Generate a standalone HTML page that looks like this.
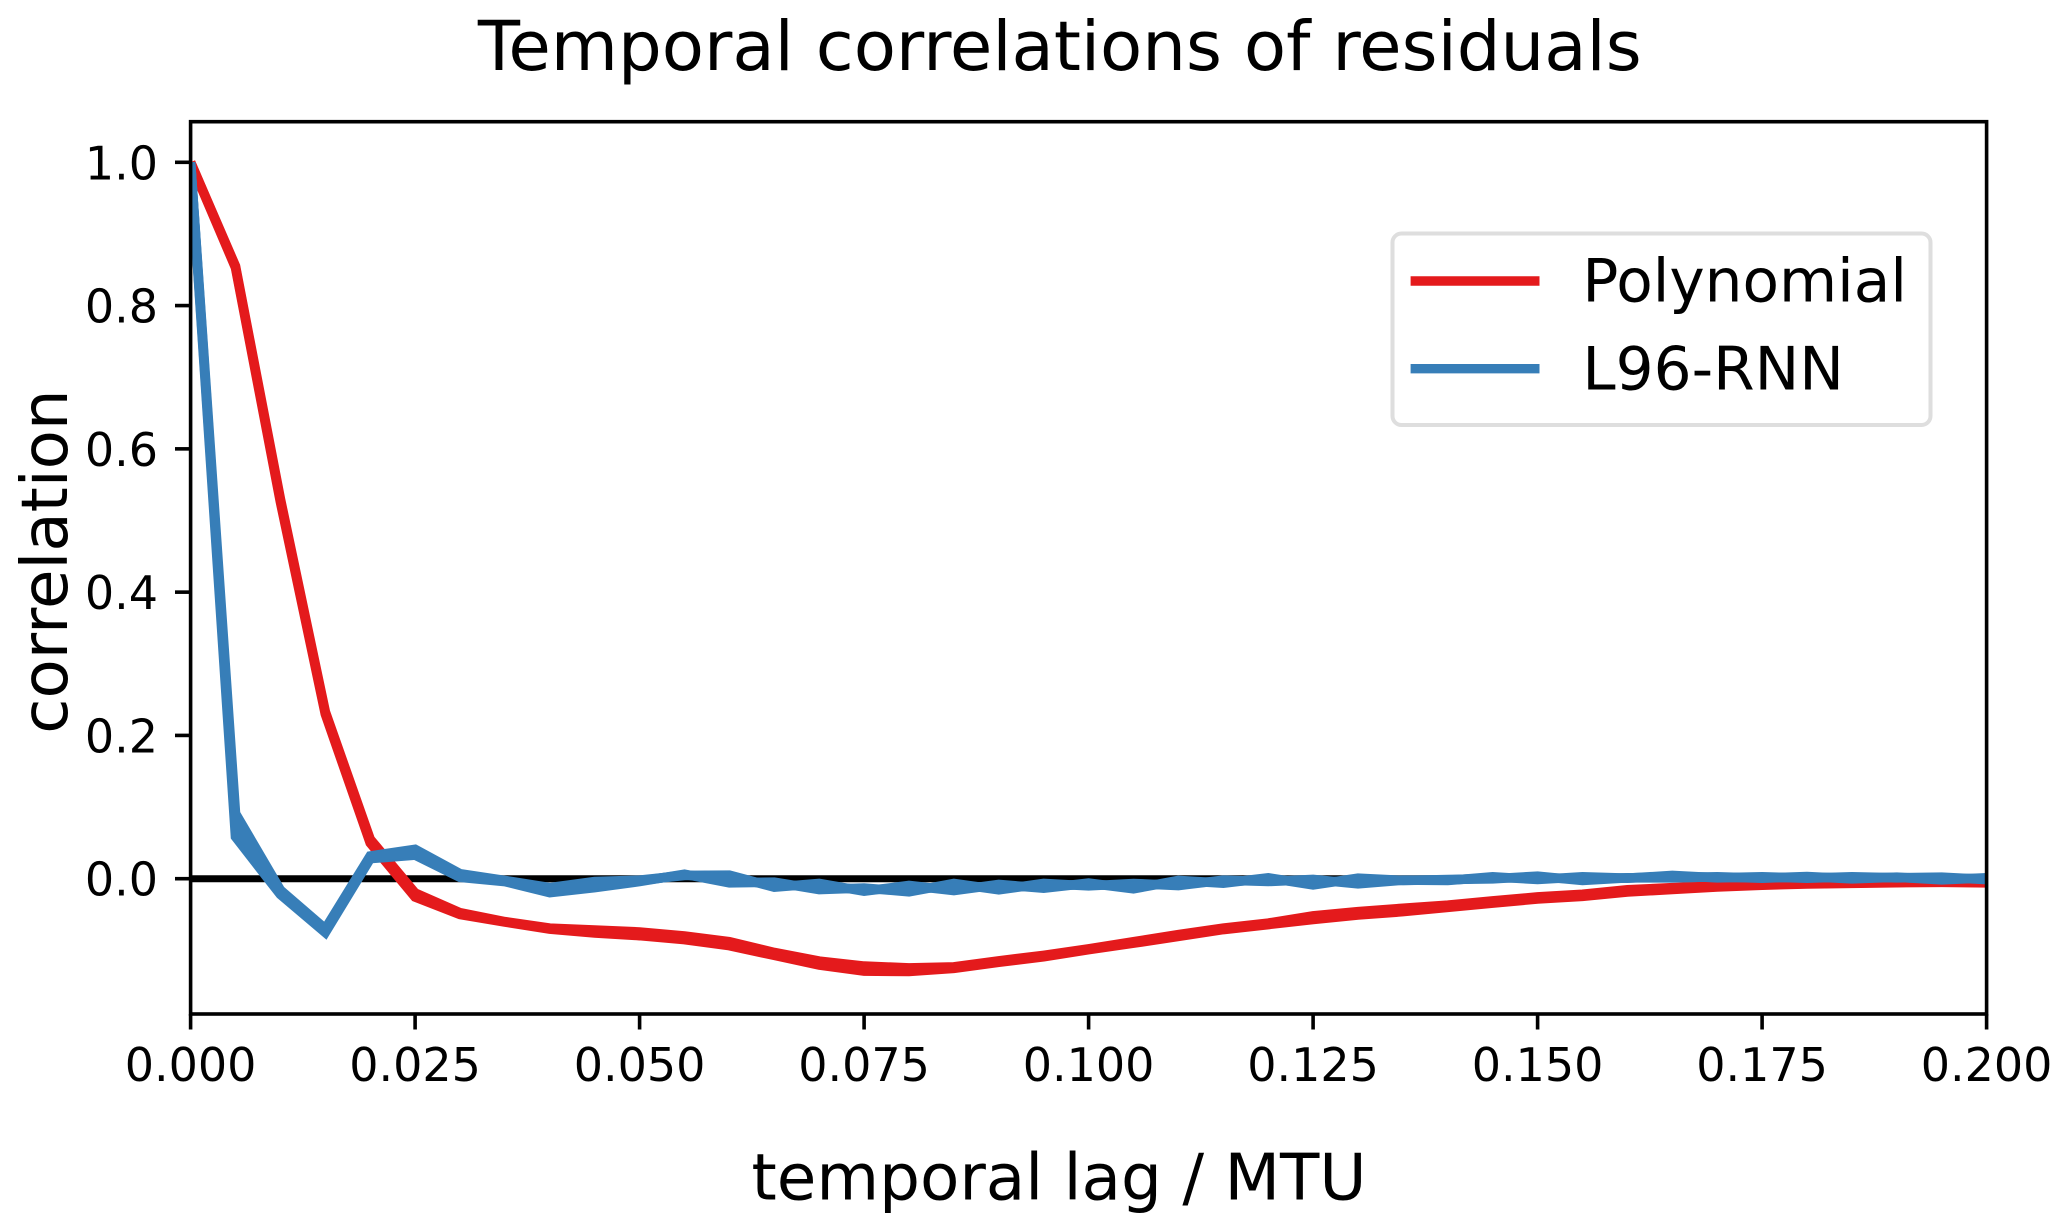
<!DOCTYPE html>
<html lang="en">
<head>
<meta charset="utf-8">
<title>Temporal correlations of residuals</title>
<style>
  html, body { margin: 0; padding: 0; background: #fff; }
  body { width: 2067px; height: 1230px; overflow: hidden; }
  svg { display: block; }
  text { font-family: "DejaVu Sans", "Liberation Sans", sans-serif; fill: #000; }
</style>
</head>
<body>
<svg id="chart" xmlns="http://www.w3.org/2000/svg" width="2067" height="1230" viewBox="0 0 2067 1230">
  <defs>
    <clipPath id="plot-clip"><rect x="190.6" y="121.7" width="1796" height="892.3"></rect></clipPath>
  </defs>
  <rect x="0" y="0" width="2067" height="1230" fill="#ffffff"></rect>
  <text x="1059.8" y="70" font-size="69" text-anchor="middle">Temporal correlations of residuals</text>
  <text x="1059" y="1199.3" font-size="64.4" text-anchor="middle">temporal lag / MTU</text>
  <text transform="translate(67,561.6) rotate(-90)" font-size="64.2" text-anchor="middle">correlation</text>
  <g id="series-layer" clip-path="url(#plot-clip)"></g>
  <g id="axis-layer"></g>
  <rect x="190.6" y="121.7" width="1796" height="892.3" fill="none" stroke="#000" stroke-width="3.6"></rect>
  <g>
    <rect x="1392.5" y="233.5" width="538" height="191.5" rx="9" ry="9" fill="#ffffff" fill-opacity="0.85" stroke="#dedede" stroke-width="4"></rect>
    <line x1="1410.6" y1="281" x2="1539.5" y2="281" stroke="#e41a1c" stroke-width="9.4"></line>
    <text x="1582.4" y="301.5" font-size="59.7">Polynomial</text>
    <line x1="1410.6" y1="368.7" x2="1539.5" y2="368.7" stroke="#377eb8" stroke-width="9.4"></line>
    <text x="1582.4" y="389.5" font-size="59.7">L96-RNN</text>
  </g>
</svg>
<script>
const lagValues = [0,0.005,0.01,0.015,0.02,0.025,0.03,0.035,0.04,0.045,0.05,0.055,0.06,0.065,0.07,0.075,0.08,0.085,0.09,0.095,0.1,0.105,0.11,0.115,0.12,0.125,0.13,0.135,0.14,0.145,0.15,0.155,0.16,0.165,0.17,0.175,0.18,0.185,0.19,0.195,0.2];
const polynomialUpper = [1,0.855,0.53,0.233,0.055,-0.02,-0.0475,-0.06,-0.069,-0.0716,-0.0744,-0.08,-0.088,-0.103,-0.115,-0.122,-0.1245,-0.1231,-0.1147,-0.107,-0.098,-0.088,-0.078,-0.069,-0.062,-0.052,-0.046,-0.0413,-0.037,-0.031,-0.0255,-0.0218,-0.0155,-0.0125,-0.0105,-0.0085,-0.0068,-0.006,-0.005,-0.0045,-0.0053];
const polynomialLower = [1,0.853,0.526,0.23,0.05,-0.0255,-0.05,-0.0605,-0.0703,-0.0758,-0.0795,-0.085,-0.0935,-0.107,-0.1205,-0.129,-0.1295,-0.1251,-0.1167,-0.109,-0.099,-0.09,-0.0805,-0.071,-0.064,-0.057,-0.0507,-0.046,-0.04,-0.034,-0.0283,-0.0246,-0.0185,-0.015,-0.0115,-0.009,-0.0073,-0.0065,-0.0055,-0.005,-0.0058];
const rnnRunA = [1,0.091,-0.016,-0.07,0.0317,0.041,0.007,-0.0025,-0.0125,-0.004,-0.002,0.0045,0.0049,-0.0118,-0.0067,-0.0174,-0.0095,-0.0165,-0.0081,-0.0132,-0.0062,-0.0141,-0.0025,-0.0062,0.0012,-0.0086,0.0007,-0.0025,-0.0011,-0.0002,0.0035,-0.0025,0.0012,0.0012,0.0026,0.0007,0.003,-0.0002,0.0021,-0.0016,0.0012];
const rnnRunB = [1,0.0586,-0.022,-0.075,0.028,0.033,0.002,-0.004,-0.0195,-0.0125,-0.0039,0.0063,-0.0058,-0.0048,-0.0151,-0.013,-0.0183,-0.0067,-0.0155,-0.0067,-0.01,-0.0067,-0.0095,-0.002,-0.0039,-0.0011,-0.0072,-0.002,-0.0025,0.0026,-0.0011,0.0026,0.0007,0.0045,0.0012,0.0026,0.0007,0.0026,0.0012,0.0021,-0.0012];
const rnnRunC = [1,0.075,-0.019,-0.0725,0.03,0.037,0.0045,-0.003,-0.016,-0.008,-0.003,0.0054,-0.0005,-0.0083,-0.0109,-0.0152,-0.0139,-0.0116,-0.0118,-0.01,-0.0081,-0.0104,-0.006,-0.0041,-0.0014,-0.0049,-0.0033,-0.0022,-0.0018,0.0012,0.0012,0,0.001,0.0028,0.0019,0.0016,0.0018,0.0012,0.0016,0.0002,0];
const xTickValues = [0,0.025,0.05,0.075,0.1,0.125,0.15,0.175,0.2];
const xTickLabels = ["0.000","0.025","0.050","0.075","0.100","0.125","0.150","0.175","0.200"];
const yTickValues = [0,0.2,0.4,0.6,0.8,1];
const yTickLabels = ["0.0","0.2","0.4","0.6","0.8","1.0"];

const SVG_NS = "http://www.w3.org/2000/svg";
const plotLeft = 190.6, plotWidth = 1796, xDomainMax = 0.2;
const zeroY = 878.7, pixelsPerUnit = 716.4;
function xScale(v) { return plotLeft + (v / xDomainMax) * plotWidth; }
function yScale(v) { return zeroY - v * pixelsPerUnit; }

const seriesLayer = document.getElementById("series-layer");
const axisLayer = document.getElementById("axis-layer");

function drawLine(values, color, width, name) {
  const el = document.createElementNS(SVG_NS, "polyline");
  el.setAttribute("points", values.map(function (v, i) { return xScale(lagValues[i]).toFixed(2) + "," + yScale(v).toFixed(2); }).join(" "));
  el.setAttribute("fill", "none");
  el.setAttribute("stroke", color);
  el.setAttribute("stroke-width", width);
  el.setAttribute("stroke-linejoin", "miter");
  el.setAttribute("stroke-miterlimit", "6");
  
  
  seriesLayer.appendChild(el);
}

const zeroLine = document.createElementNS(SVG_NS, "line");
zeroLine.setAttribute("x1", xScale(0));
zeroLine.setAttribute("x2", xScale(xDomainMax));
zeroLine.setAttribute("y1", yScale(0));
zeroLine.setAttribute("y2", yScale(0));
zeroLine.setAttribute("stroke", "#000");
zeroLine.setAttribute("stroke-width", "7");


seriesLayer.appendChild(zeroLine);

drawLine(polynomialUpper, "#e41a1c", 9.6, "polynomial-line-upper");
drawLine(polynomialLower, "#e41a1c", 9.6, "polynomial-line-lower");
drawLine(rnnRunA, "#377eb8", 9.6, "l96-rnn-line-a");
drawLine(rnnRunB, "#377eb8", 9.6, "l96-rnn-line-b");
drawLine(rnnRunC, "#377eb8", 9.6, "l96-rnn-line-c");

xTickValues.forEach(function (v, i) {
  const tick = document.createElementNS(SVG_NS, "line");
  tick.setAttribute("x1", xScale(v));
  tick.setAttribute("x2", xScale(v));
  tick.setAttribute("y1", 1014);
  tick.setAttribute("y2", 1029.5);
  tick.setAttribute("stroke", "#000");
  tick.setAttribute("stroke-width", "3.6");
  
  
  axisLayer.appendChild(tick);
  const label = document.createElementNS(SVG_NS, "text");
  label.setAttribute("x", xScale(v));
  label.setAttribute("y", 1081);
  label.setAttribute("font-size", "46");
  label.setAttribute("text-anchor", "middle");
  
  
  label.textContent = xTickLabels[i];
  axisLayer.appendChild(label);
});

yTickValues.forEach(function (v, i) {
  const tick = document.createElementNS(SVG_NS, "line");
  tick.setAttribute("x1", 175);
  tick.setAttribute("x2", 190.6);
  tick.setAttribute("y1", yScale(v));
  tick.setAttribute("y2", yScale(v));
  tick.setAttribute("stroke", "#000");
  tick.setAttribute("stroke-width", "3.6");
  
  
  axisLayer.appendChild(tick);
  const label = document.createElementNS(SVG_NS, "text");
  label.setAttribute("x", 158);
  label.setAttribute("y", yScale(v) + 17);
  label.setAttribute("font-size", "46");
  label.setAttribute("text-anchor", "end");
  
  
  label.textContent = yTickLabels[i];
  axisLayer.appendChild(label);
});
</script>
</body>
</html>
